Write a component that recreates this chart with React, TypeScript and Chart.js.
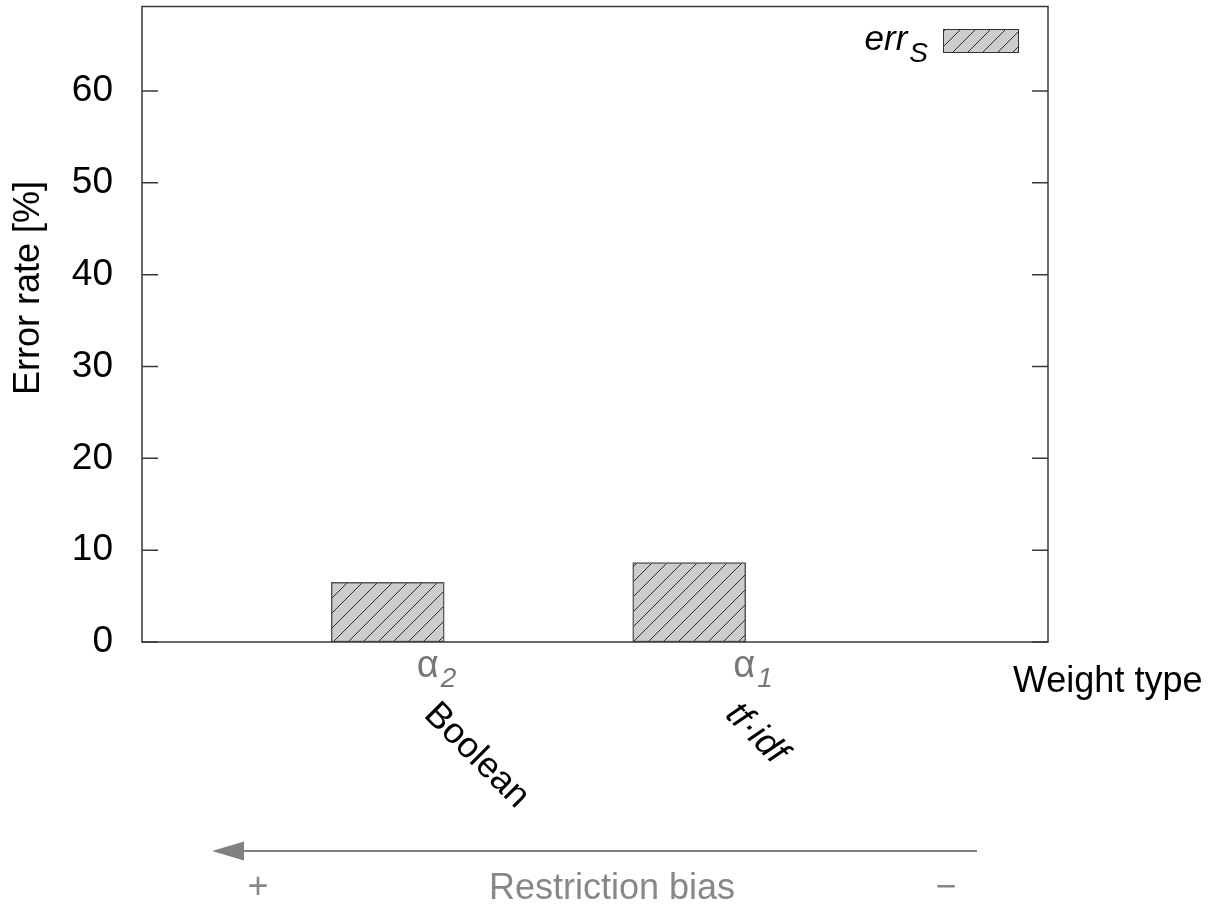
import React, { useEffect, useRef } from 'react';
import { Chart, registerables } from 'chart.js';

Chart.register(...registerables);

// ---- data ----
const categories = ['Boolean', 'tf·idf'];
const alphaSubscripts = ['2', '1'];
const errS = [6.5, 8.65];
const yTickValues = [0, 10, 20, 30, 40, 50, 60];
const yMin = 0;
const yMax = 69.2;
const xMin = -0.815;
const xMax = 2.19;
const yTitle = 'Error rate [%]';
const xTitle = 'Weight type';
const biasTitle = 'Restriction bias';
const legendMain = 'err';
const legendSub = 'S';

const FONT = '"Liberation Sans", Arial, Helvetica, sans-serif';

function makeHatch(): CanvasPattern | string {
  const size = 15;
  const c = document.createElement('canvas');
  c.width = size;
  c.height = size;
  const g = c.getContext('2d');
  if (!g) return '#cccccc';
  g.fillStyle = '#cccccc';
  g.fillRect(0, 0, size, size);
  g.strokeStyle = '#2a2a2a';
  g.lineWidth = 1;
  g.beginPath();
  g.moveTo(0, size);
  g.lineTo(size, 0);
  g.moveTo(-2, 2);
  g.lineTo(2, -2);
  g.moveTo(size - 2, size + 2);
  g.lineTo(size + 2, size - 2);
  g.stroke();
  const p = g.createPattern(c, 'repeat');
  return p || '#cccccc';
}

export default function App() {
  const ref = useRef<HTMLCanvasElement | null>(null);

  useEffect(() => {
    document.body.style.margin = '0';
    const canvas = ref.current;
    if (!canvas) return;
    const hatch = makeHatch();

    const decor = {
      id: 'decor',
      afterDraw(chart: any) {
        const ctx = chart.ctx as CanvasRenderingContext2D;
        const area = chart.chartArea;
        const ys = chart.scales.y;
        const xs = chart.scales.x;
        ctx.save();

        // frame
        ctx.strokeStyle = '#383838';
        ctx.lineWidth = 1.5;
        ctx.strokeRect(area.left, area.top, area.right - area.left, area.bottom - area.top);

        // inward ticks, mirrored
        ctx.beginPath();
        yTickValues.forEach((v) => {
          const py = ys.getPixelForValue(v);
          ctx.moveTo(area.left, py);
          ctx.lineTo(area.left + 16, py);
          ctx.moveTo(area.right, py);
          ctx.lineTo(area.right - 16, py);
        });
        ctx.stroke();

        // y title
        ctx.fillStyle = '#000';
        ctx.font = `36px ${FONT}`;
        ctx.textAlign = 'center';
        ctx.textBaseline = 'alphabetic';
        ctx.save();
        ctx.translate(39, 288);
        ctx.rotate(-Math.PI / 2);
        ctx.fillText(yTitle, 0, 0);
        ctx.restore();

        // x title
        ctx.textAlign = 'left';
        ctx.fillText(xTitle, 1013, 692);

        // category labels
        const alphaOffsets = [29, 44];
        categories.forEach((name, i) => {
          const px = xs.getPixelForValue(i);
          // alpha label
          ctx.fillStyle = '#777';
          ctx.font = `38px ${FONT}`;
          ctx.textAlign = 'left';
          const ax = px + alphaOffsets[i];
          ctx.fillText('α', ax, 677);
          const aw = ctx.measureText('α').width;
          ctx.font = `italic 28px ${FONT}`;
          ctx.fillText(alphaSubscripts[i], ax + aw + 2, 687);
          // rotated name
          ctx.fillStyle = '#000';
          ctx.font = i === 1 ? `italic 36px ${FONT}` : `36px ${FONT}`;
          ctx.save();
          ctx.translate(px + 35, 716);
          ctx.rotate(Math.PI / 4);
          ctx.fillText(name, 0, 0);
          ctx.restore();
        });

        // legend
        ctx.fillStyle = '#000';
        ctx.font = `italic 35px ${FONT}`;
        ctx.textAlign = 'right';
        ctx.save();
        ctx.font = `italic 28px ${FONT}`;
        const subW = ctx.measureText(legendSub).width;
        ctx.restore();
        const textRight = 928;
        ctx.fillText(legendMain, textRight - subW - 2, 50);
        ctx.font = `italic 28px ${FONT}`;
        ctx.fillText(legendSub, textRight, 62);
        ctx.fillStyle = hatch as any;
        ctx.fillRect(943, 29, 75, 23);
        ctx.strokeStyle = '#333';
        ctx.lineWidth = 1;
        ctx.strokeRect(943.5, 29.5, 75, 23);

        // restriction bias arrow
        ctx.strokeStyle = '#808080';
        ctx.fillStyle = '#808080';
        ctx.lineWidth = 2;
        ctx.beginPath();
        ctx.moveTo(977, 851);
        ctx.lineTo(240, 851);
        ctx.stroke();
        ctx.beginPath();
        ctx.moveTo(212, 851);
        ctx.lineTo(244, 841.5);
        ctx.lineTo(244, 860.5);
        ctx.closePath();
        ctx.fill();

        ctx.fillStyle = '#888';
        ctx.font = `36px ${FONT}`;
        ctx.textAlign = 'center';
        ctx.textBaseline = 'middle';
        ctx.fillText('+', 258, 888);
        ctx.fillText('−', 946, 888);
        ctx.textBaseline = 'alphabetic';
        ctx.fillText(biasTitle, 612, 899);

        ctx.restore();
      },
    };

    const chart = new Chart(canvas, {
      type: 'bar',
      data: {
        datasets: [
          {
            label: 'errS',
            data: errS.map((v, i) => ({ x: i, y: v })),
            backgroundColor: hatch as any,
            borderColor: '#555',
            borderWidth: 1.5,
            borderSkipped: false,
            barThickness: 113,
          },
        ],
      },
      options: {
        animation: false,
        responsive: false,
        maintainAspectRatio: false,
        layout: { padding: { left: 0, right: 163, top: 6.5, bottom: 0 } },
        plugins: {
          legend: { display: false },
          tooltip: { enabled: false },
          title: { display: false },
        },
        scales: {
          x: {
            type: 'linear',
            min: xMin,
            max: xMax,
            offset: false,
            grid: { display: false, offset: false },
            border: { display: false },
            ticks: { display: false },
            afterFit: (scale: any) => {
              scale.height = 265;
              scale.paddingLeft = 0;
              scale.paddingRight = 0;
              scale.paddingTop = 0;
              scale.paddingBottom = 0;
            },
          },
          y: {
            type: 'linear',
            min: yMin,
            max: yMax,
            grid: { display: false },
            border: { display: false },
            ticks: {
              stepSize: 10,
              includeBounds: false,
              padding: 21,
              color: '#000',
              font: { family: FONT, size: 37 },
            },
            afterFit: (scale: any) => {
              scale.width = 142;
              scale.paddingTop = 0;
              scale.paddingBottom = 0;
              scale.paddingLeft = 0;
              scale.paddingRight = 0;
            },
          },
        },
      },
      plugins: [decor],
    });

    return () => chart.destroy();
  }, []);

  return (
    <div style={{ width: 1211, height: 907 }}>
      <canvas ref={ref} width={1211} height={907} style={{ display: 'block' }} />
    </div>
  );
}
